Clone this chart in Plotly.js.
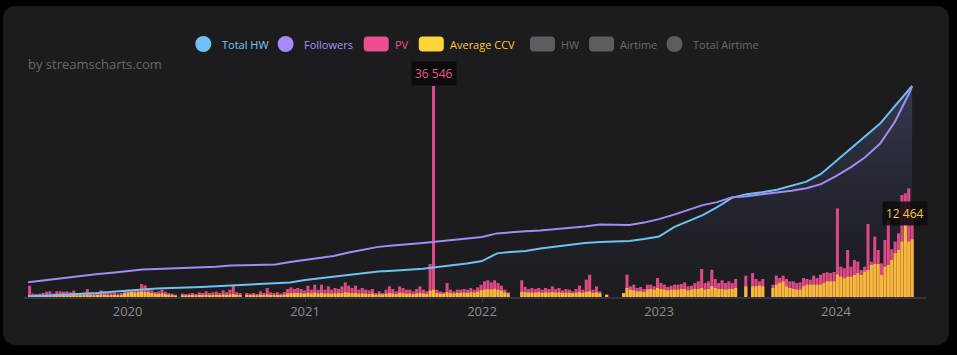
<!DOCTYPE html>
<html>
<head>
<meta charset="utf-8">
<script src="https://cdn.plot.ly/plotly-3.0.1.min.js"></script>
<style>
html,body{margin:0;padding:0;background:#000;width:957px;height:355px;overflow:hidden;}
#card{position:absolute;left:3px;top:6px;width:946px;height:339px;border-radius:12px;background:#1c1c1f;}
#chart{position:absolute;left:0;top:0;width:957px;height:355px;}
</style>
</head>
<body>
<div id="card"></div>
<div id="chart"></div>
<script>
// ---- weekly bar data (first week centre, then one value per week) ----
const firstWeek = '2019-06-13';
const pv = [
1960,580,520,580,690,920,980,580,980,980,
920,980,810,1100,690,690,810,1380,810,690,
870,1150,980,690,690,810,580,690,1150,1270,
1150,1270,1150,2250,2020,1380,1150,870,980,1270,
920,690,580,400,null,580,520,580,690,520,
810,690,980,690,810,920,690,1150,810,1270,
1960,810,690,null,690,580,690,520,980,690,
1560,810,690,810,580,870,1380,1670,1380,1560,
1380,1150,1960,1270,2130,1270,2130,1270,1850,1270,
1560,1380,1850,2540,1960,1560,1960,1270,1560,1270,
1150,1380,690,980,690,1270,1850,1380,980,1850,
1560,1270,1270,980,1380,1850,1270,980,5700,36546,
1270,980,810,2420,1270,980,1270,1270,1380,1270,
1560,1270,1670,2130,2710,2890,2540,2890,2420,1960,
1270,810,null,null,null,2890,1730,1380,1560,1380,
1560,1270,1560,1380,1850,1380,1560,1150,1380,1270,
980,1380,1960,1270,3000,3870,1270,1850,980,null,
400,null,null,null,null,700,3870,1850,2130,1560,
1730,1380,2130,2130,1850,3290,2420,2130,1730,1960,
2130,2130,2250,2540,1850,1960,2420,2710,4850,2420,
2710,4730,3120,2420,2890,2420,2710,2420,3120,null,
null,3690,null,4150,3120,2710,3120,null,null,2130,
3690,3290,3690,3120,2710,2710,2420,2540,3290,3120,
3000,3690,3290,3870,4150,4270,4150,4330,15360,5250,
4970,8140,5250,6410,6120,4680,5250,12640,6120,10450,
8140,5830,9870,13340,8260,9580,11030,17670,17960,18820,
14490
];
const ccv = [
350,250,230,260,280,300,320,260,330,330,
310,340,300,380,300,280,320,420,330,300,
350,400,380,300,320,350,280,330,650,780,
850,800,880,950,900,820,700,560,520,600,
480,380,300,250,null,280,260,300,320,280,
350,320,380,300,340,360,320,420,360,420,
520,360,330,null,330,300,320,280,400,320,
450,360,330,360,300,380,600,680,650,700,
640,560,720,600,780,600,720,600,650,560,
640,620,700,820,760,650,700,560,620,560,
520,600,400,480,420,560,700,620,500,720,
650,560,600,480,620,700,580,520,1100,1270,
700,600,560,850,650,620,700,720,760,720,
820,750,900,1150,1270,1350,1300,1400,1250,1100,
800,600,null,null,null,900,820,760,800,760,
820,720,800,760,850,760,820,700,760,720,
650,760,850,720,900,950,700,800,650,null,
400,null,null,null,null,650,1560,1270,1150,980,
980,870,1270,1380,1270,1560,1380,1270,1150,1270,
1270,1270,1380,1380,1150,1270,1380,1380,1560,1270,
1380,1850,1560,1380,1380,1270,1380,1380,1560,null,
null,1850,null,1850,1850,1960,1850,null,null,1560,
2130,2420,2710,1850,1560,1380,1270,1270,1850,2130,
2130,2130,2130,2130,2420,2710,2710,2710,3900,3520,
3230,3520,3520,3810,4100,3810,4390,4680,5540,5720,
5720,3810,5250,5540,6410,7570,8140,9580,12464,9580,
9990
];

// ---- cumulative lines (monthly points) ----
const lineDates = [
'2019-06-10','2019-07-01','2019-08-01','2019-09-01','2019-10-01','2019-11-01','2019-12-01',
'2020-01-01','2020-02-01','2020-03-01','2020-04-01','2020-05-01','2020-06-01','2020-07-01','2020-08-01','2020-09-01','2020-10-01','2020-11-01','2020-12-01',
'2021-01-01','2021-02-01','2021-03-01','2021-04-01','2021-05-01','2021-06-01','2021-07-01','2021-08-01','2021-09-01','2021-10-01','2021-11-01','2021-12-01',
'2022-01-01','2022-02-01','2022-03-01','2022-04-01','2022-05-01','2022-06-01','2022-07-01','2022-08-01','2022-09-01','2022-10-01','2022-11-01','2022-12-01',
'2023-01-01','2023-02-01','2023-03-01','2023-04-01','2023-05-01','2023-06-01','2023-07-01','2023-08-01','2023-09-01','2023-10-01','2023-11-01','2023-12-01',
'2024-01-01','2024-02-01','2024-03-01','2024-04-01','2024-05-01','2024-06-01','2024-06-06'
];
const followers = [
14700,16000,18000,19500,21500,23000,24300,
26000,27500,28000,28500,29300,29700,30200,31500,32000,32200,32600,35000,
37000,38700,41000,44500,47500,50200,51500,52500,54000,55500,57000,58500,
60000,63700,65000,65800,66500,67700,69000,70500,72500,72200,72000,74500,
78000,82500,87000,92000,95000,100000,101000,102500,104700,106500,109000,113000,
121000,130000,140000,153700,175000,205000,211300
];
const totalHW = [
10000,20000,30000,40000,54000,80000,106000,
130000,160000,170000,180000,186000,200000,216000,230000,240000,250000,262000,290000,
340000,374000,410000,450000,484000,510000,526000,540000,564000,600000,630000,670000,
720000,874000,900000,920000,970000,1010000,1050000,1080000,1100000,1106000,1120000,1160000,
1210000,1400000,1520000,1640000,1800000,1990000,2060000,2096000,2150000,2230000,2310000,2464000,
2720000,2980000,3220000,3474000,3820000,4180000,4226000
];
const xTicks = ['2020-01-01','2021-01-01','2022-01-01','2023-01-01','2024-01-01'];
const xTickText = ['2020','2021','2022','2023','2024'];
const legendNames = ['Total HW','Followers','PV','Average CCV','HW','Airtime','Total Airtime'];

// ---- build ----
const weekDates = [];
(function(){
  const p = firstWeek.split('-').map(Number);
  const t0 = Date.UTC(p[0], p[1]-1, p[2]);
  for (let i = 0; i < pv.length; i++) {
    weekDates.push(new Date(t0 + i*7*86400000).toISOString().slice(0,10));
  }
})();

const hwMax = Math.max(...totalHW), fMax = Math.max(...followers), pvMax = Math.max(...pv.filter(v=>v!=null));
const topPad = 217/211;

const traces = [
  {type:'scatter', mode:'lines', x:lineDates, y:totalHW, yaxis:'y', line:{width:0, color:'rgba(0,0,0,0)'},
   fill:'tozeroy', fillgradient:{type:'vertical', start:0, stop:hwMax,
     colorscale:[[0,'rgba(40,45,70,0.05)'],[1,'rgba(95,110,160,0.38)']]},
   hoverinfo:'skip', showlegend:false},
  {type:'bar', x:weekDates, y:pv, yaxis:'y2', marker:{color:'#dc4a86'}, name:'PV', showlegend:false},
  {type:'bar', x:weekDates, y:ccv, yaxis:'y2', marker:{color:'#f5bb38'}, name:'Average CCV', showlegend:false},
  {type:'scatter', mode:'lines', x:lineDates, y:totalHW, yaxis:'y3', line:{width:2, color:'#6ec1f2', shape:'linear'}, name:'Total HW', showlegend:false},
  {type:'scatter', mode:'lines', x:lineDates, y:followers, yaxis:'y4', line:{width:2, color:'#a48bf5'}, name:'Followers', showlegend:false}
];

// plot area: x 24..927, y 80..297
const L = 24, R = 927, T = 80, B = 297;
const px = v => (v - L) / (R - L);
const py = v => (B - v) / (B - T);

const legendY = py(44);
const circle = (cx, color) => ({type:'circle', xref:'paper', yref:'paper', xsizemode:'pixel', ysizemode:'pixel',
  xanchor:px(cx), yanchor:legendY, x0:-8, x1:8, y0:-8, y1:8, fillcolor:color, line:{width:0}, layer:'above'});
const rrect = (cx, color) => ({type:'path', xref:'paper', yref:'paper', xsizemode:'pixel', ysizemode:'pixel',
  xanchor:px(cx), yanchor:legendY,
  path:'M -8.5,-7.5 L 8.5,-7.5 Q 12.5,-7.5 12.5,-3.5 L 12.5,3.5 Q 12.5,7.5 8.5,7.5 L -8.5,7.5 Q -12.5,7.5 -12.5,3.5 L -12.5,-3.5 Q -12.5,-7.5 -8.5,-7.5 Z',
  fillcolor:color, line:{width:0}, layer:'above'});
const label = (lx, text, color) => ({xref:'paper', yref:'paper', x:px(lx), y:legendY, xanchor:'left', yanchor:'middle',
  text:text, showarrow:false, font:{family:'Open Sans, sans-serif', size:11, color:color}});

const shapes = [
  circle(203.3, '#6ec1f2'),
  circle(285.6, '#a48bf5'),
  rrect(376.2, '#ee4d8f'),
  rrect(431.3, '#fcd33a'),
  rrect(542.5, '#5c5c61'),
  rrect(601.5, '#5c5c61'),
  circle(674.5, '#5c5c61')
];
const annotations = [
  label(220, legendNames[0], '#7cc6f5'),
  label(302, legendNames[1], '#a792f5'),
  label(393, legendNames[2], '#e8508d'),
  label(448, legendNames[3], '#f4cb3c'),
  label(559, legendNames[4], '#6a6a70'),
  label(618, legendNames[5], '#6a6a70'),
  label(691, legendNames[6], '#6a6a70'),
  {xref:'paper', yref:'paper', x:px(26), y:py(64), xanchor:'left', yanchor:'middle', showarrow:false,
   text:'by streamscharts.com', font:{family:'Open Sans, sans-serif', size:13, color:'#67676c'}},
  {xref:'x', yref:'y2', x:weekDates[pv.indexOf(pvMax)], y:pvMax, yshift:13, showarrow:false,
   text:'36 546', font:{family:'Open Sans, sans-serif', size:12, color:'#ec5590'},
   bgcolor:'#0b0b0d', borderpad:3},
  {xref:'x', yref:'y2', x:weekDates[ccv.indexOf(12464)], y:12464, yshift:12, showarrow:false,
   text:'12 464', font:{family:'Open Sans, sans-serif', size:12, color:'#f5cc45'},
   bgcolor:'rgba(12,12,14,0.85)', borderpad:3}
];

const layout = {
  width:957, height:355,
  margin:{l:L, r:957-R, t:T, b:355-B},
  paper_bgcolor:'rgba(0,0,0,0)', plot_bgcolor:'rgba(0,0,0,0)',
  barmode:'overlay', bargap:0.1,
  showlegend:false,
  xaxis:{type:'date', range:['2019-06-01 10:00','2024-07-06 17:00'], tickvals:xTicks, ticktext:xTickText,
    showgrid:false, zeroline:false, showline:true, linecolor:'#36363a', linewidth:2,
    ticks:'outside', ticklen:3, tickcolor:'#3e3e42', tickwidth:1, ticklabelstandoff:-2,
    tickfont:{family:'Open Sans, sans-serif', size:13, color:'#8c8c91'}, fixedrange:true},
  yaxis:{range:[0, hwMax*topPad], visible:false, showgrid:false, zeroline:false, fixedrange:true},
  yaxis2:{range:[0, pvMax*topPad], overlaying:'y', visible:false, showgrid:false, zeroline:false},
  yaxis3:{range:[0, hwMax*topPad], overlaying:'y', visible:false, showgrid:false, zeroline:false},
  yaxis4:{range:[0, fMax*topPad], overlaying:'y', visible:false, showgrid:false, zeroline:false},
  shapes:shapes,
  annotations:annotations
};

Plotly.newPlot('chart', traces, layout, {displayModeBar:false, staticPlot:true});
</script>
</body>
</html>
